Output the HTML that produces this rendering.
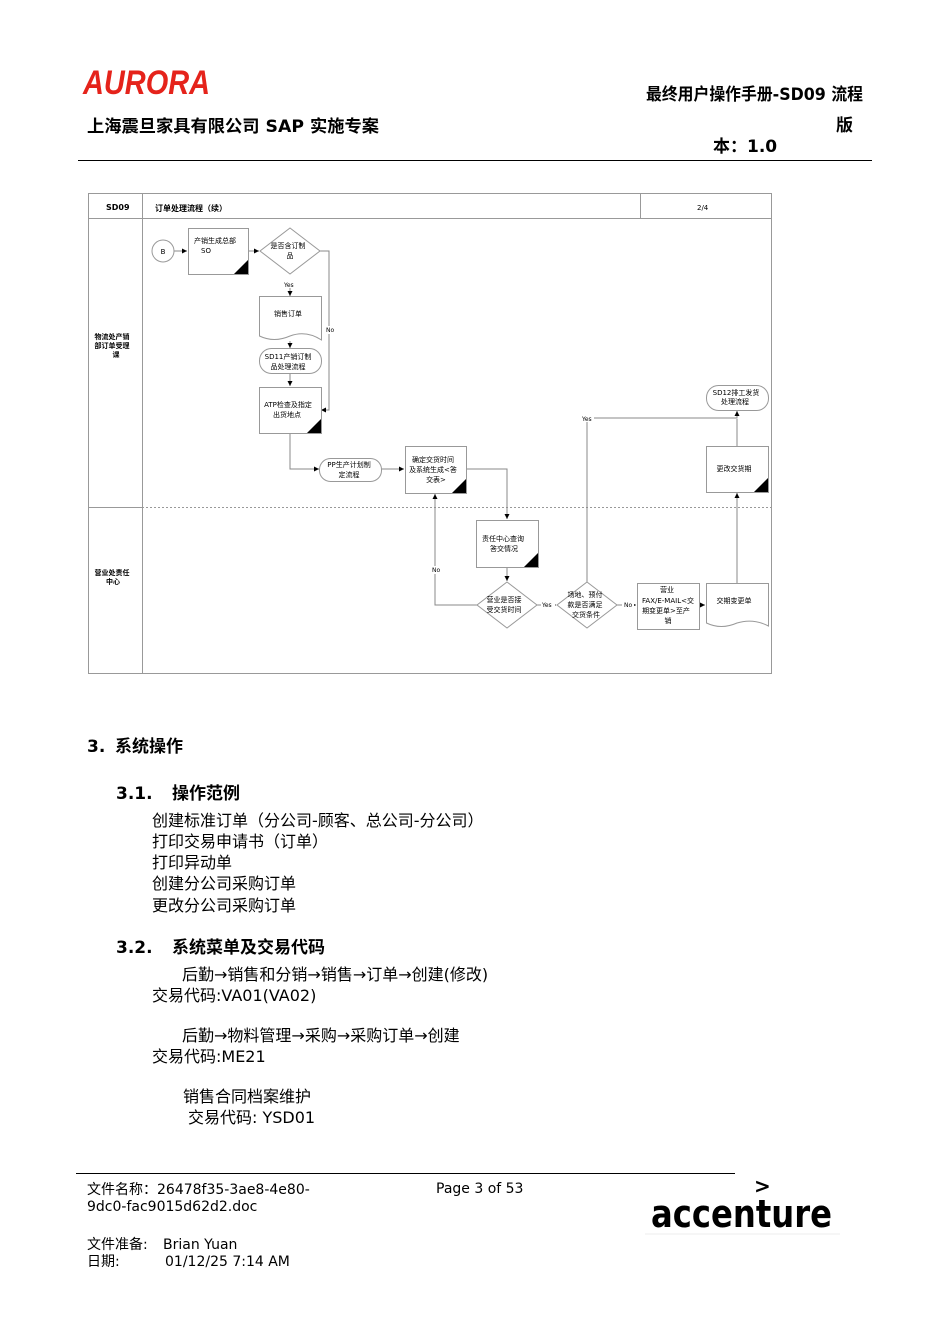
<!DOCTYPE html>
<html><head><meta charset="utf-8"><style>
html,body{margin:0;padding:0;background:#fff;}
svg{display:block;}
text{font-family:"DejaVu Sans","Noto Sans CJK SC",sans-serif;fill:#000;}
.d{font-size:7px;}
.b{font-size:16px;}
.h{font-size:17px;font-weight:bold;}
.f{font-size:14px;}
</style></head><body>
<svg width="950" height="1344" viewBox="0 0 950 1344" xmlns="http://www.w3.org/2000/svg">
<defs>
<marker id="a" markerWidth="6" markerHeight="6" refX="5" refY="3" orient="auto" markerUnits="userSpaceOnUse"><path d="M0,0.5 L5,3 L0,5.5 z" fill="#000"/></marker>
</defs>
<!-- header -->
<text x="83" y="94" textLength="127" lengthAdjust="spacingAndGlyphs" style="font-family:'Liberation Sans',sans-serif;font-size:34px;font-weight:bold;font-style:italic;fill:#e5231b;">AURORA</text>
<text x="87" y="132" class="h" textLength="292" lengthAdjust="spacingAndGlyphs">上海震旦家具有限公司 SAP 实施专案</text>
<text x="646" y="100" class="h" textLength="217" lengthAdjust="spacingAndGlyphs">最终用户操作手册-SD09 流程</text>
<text x="836" y="131" class="h">版</text>
<text x="713" y="152" class="h">本：1.0</text>
<line x1="78" y1="160.5" x2="872" y2="160.5" stroke="#000" stroke-width="1"/>

<!-- diagram frame -->
<g fill="none" stroke="#999" stroke-width="1">
<rect x="88.5" y="193.5" width="683" height="480"/>
<line x1="88" y1="218.5" x2="772" y2="218.5"/>
<line x1="142.5" y1="193" x2="142.5" y2="673"/>
<line x1="640.5" y1="193" x2="640.5" y2="218"/>
<line x1="88" y1="507.5" x2="142" y2="507.5"/>
<line x1="142" y1="507.5" x2="772" y2="507.5" stroke-dasharray="2,2"/>
</g>
<text x="106" y="210" class="d" style="font-weight:bold;font-size:8px">SD09</text>
<text x="155" y="211" class="d" style="font-weight:bold;font-size:8px">订单处理流程（续）</text>
<text x="697" y="210" class="d">2/4</text>
<text x="112" y="339" class="d" text-anchor="middle" style="font-weight:bold">物流处产销</text>
<text x="112" y="348" class="d" text-anchor="middle" style="font-weight:bold">部订单受理</text>
<text x="116" y="357" class="d" text-anchor="middle" style="font-weight:bold">课</text>
<text x="112" y="575" class="d" text-anchor="middle" style="font-weight:bold">营业处责任</text>
<text x="113" y="584" class="d" text-anchor="middle" style="font-weight:bold">中心</text>

<!-- connectors -->
<g fill="none" stroke="#888" stroke-width="1" marker-end="url(#a)">
<line x1="174" y1="251" x2="187" y2="251"/>
<line x1="248" y1="251" x2="259" y2="251"/>
<line x1="290" y1="288" x2="290" y2="296"/>
<polyline points="320,251 329,251 329,410 321,410"/>
<line x1="290" y1="341" x2="290" y2="348"/>
<line x1="290" y1="373" x2="290" y2="386"/>
<polyline points="290,433 290,469 319,469"/>
<line x1="381" y1="469" x2="404" y2="469"/>
<polyline points="466,469 507,469 507,519"/>
<line x1="507" y1="567" x2="507" y2="581"/>
<polyline points="477,605 435,605 435,494"/>
<line x1="537" y1="605" x2="556" y2="605"/>
<polyline points="587,582 587,418 737,418 737,411"/>
<line x1="617" y1="605" x2="636" y2="605"/>
<line x1="699" y1="605" x2="705" y2="605"/>
<line x1="737" y1="583" x2="737" y2="493"/>
<line x1="737" y1="446" x2="737" y2="419" marker-end="none"/>
</g>
<g fill="#fff">
<rect x="283" y="280" width="14" height="8"/>
<rect x="580" y="414" width="14" height="8"/>
<rect x="541" y="601" width="14" height="8"/>
<rect x="622" y="601" width="12" height="8"/>
<rect x="430" y="566" width="12" height="8"/>
<rect x="324" y="326" width="12" height="8"/>
</g>
<text x="284" y="287" class="d" style="font-size:6px">Yes</text>
<text x="582" y="421" class="d" style="font-size:6px">Yes</text>
<text x="542" y="607" class="d" style="font-size:6px">Yes</text>
<text x="624" y="607" class="d" style="font-size:6px">No</text>
<text x="432" y="572" class="d" style="font-size:6px">No</text>
<text x="326" y="332" class="d" style="font-size:6px">No</text>

<!-- nodes -->
<g fill="#fff" stroke="#999" stroke-width="1">
<circle cx="163" cy="251" r="11"/>
<rect x="188.5" y="228.5" width="60" height="46"/>
<polygon points="290,228 320,251 290,274 260,251"/>
<path d="M259.5,296.5 H321.5 V340 Q306,330 290,336 Q274,343 259.5,336 Z"/>
<rect x="259.5" y="348.5" width="62" height="25" rx="12"/>
<rect x="259.5" y="387.5" width="62" height="46"/>
<rect x="319.5" y="458.5" width="62" height="23" rx="11"/>
<rect x="405.5" y="446.5" width="61" height="47"/>
<rect x="476.5" y="520.5" width="62" height="47"/>
<polygon points="507,582 537,605 507,628 477,605"/>
<polygon points="587,582 617,605 587,628 557,605"/>
<rect x="637.5" y="583.5" width="62" height="46"/>
<path d="M706.5,583.5 H768.5 V626 Q753,618 737,623 Q721,630 706.5,623 Z"/>
<rect x="706.5" y="446.5" width="62" height="46"/>
<rect x="706.5" y="385.5" width="62" height="25" rx="12"/>
</g>
<g fill="#000">
<polygon points="248,260 248,274 234,274"/>
<polygon points="321,419 321,433 307,433"/>
<polygon points="466,479 466,493 452,493"/>
<polygon points="538,553 538,567 524,567"/>
<polygon points="768,478 768,492 754,492"/>
</g>
<g class="d" text-anchor="middle">
<text x="163" y="254" class="d">B</text>
<text x="215" y="243" class="d">产销生成总部</text>
<text x="206" y="253" class="d">SO</text>
<text x="288" y="248" class="d">是否含订制</text>
<text x="290" y="258" class="d">品</text>
<text x="288" y="316" class="d">销售订单</text>
<text x="288" y="359" class="d">SD11产销订制</text>
<text x="288" y="369" class="d">品处理流程</text>
<text x="288" y="407" class="d">ATP检查及指定</text>
<text x="287" y="417" class="d">出货地点</text>
<text x="349" y="467" class="d">PP生产计划制</text>
<text x="349" y="477" class="d">定流程</text>
<text x="433" y="462" class="d">确定交货时间</text>
<text x="433" y="472" class="d">及系统生成&lt;答</text>
<text x="436" y="482" class="d">交表&gt;</text>
<text x="503" y="541" class="d">责任中心查询</text>
<text x="504" y="551" class="d">答交情况</text>
<text x="504" y="602" class="d">营业是否接</text>
<text x="504" y="612" class="d">受交货时间</text>
<text x="585" y="597" class="d">场地、预付</text>
<text x="585" y="607" class="d">款是否满足</text>
<text x="586" y="617" class="d">交货条件</text>
<text x="667" y="592" class="d">营业</text>
<text x="668" y="603" class="d">FAX/E-MAIL&lt;交</text>
<text x="666" y="613" class="d">期变更单&gt;至产</text>
<text x="668" y="623" class="d">销</text>
<text x="734" y="603" class="d">交期变更单</text>
<text x="734" y="471" class="d">更改交货期</text>
<text x="736" y="395" class="d">SD12排工发货</text>
<text x="735" y="404" class="d">处理流程</text>
</g>

<!-- body text -->
<text x="87" y="752" class="h">3.</text>
<text x="115" y="752" class="h">系统操作</text>
<text x="116" y="799" class="h">3.1.</text>
<text x="172" y="799" class="h">操作范例</text>
<text x="152" y="826" class="b">创建标准订单（分公司-顾客、总公司-分公司）</text>
<text x="152" y="847" class="b">打印交易申请书（订单）</text>
<text x="152" y="868" class="b">打印异动单</text>
<text x="152" y="889" class="b">创建分公司采购订单</text>
<text x="152" y="911" class="b">更改分公司采购订单</text>
<text x="116" y="953" class="h">3.2.</text>
<text x="172" y="953" class="h">系统菜单及交易代码</text>
<text x="182" y="980" class="b">后勤→销售和分销→销售→订单→创建(修改)</text>
<text x="152" y="1001" class="b">交易代码:VA01(VA02)</text>
<text x="182" y="1041" class="b">后勤→物料管理→采购→采购订单→创建</text>
<text x="152" y="1062" class="b">交易代码:ME21</text>
<text x="183" y="1102" class="b">销售合同档案维护</text>
<text x="188" y="1123" class="b">交易代码: YSD01</text>

<!-- footer -->
<line x1="76" y1="1173.5" x2="735" y2="1173.5" stroke="#000" stroke-width="1"/>
<text x="87" y="1194" class="f">文件名称：26478f35-3ae8-4e80-</text>
<text x="87" y="1211" class="f">9dc0-fac9015d62d2.doc</text>
<text x="436" y="1193" class="f">Page 3 of 53</text>
<text x="87" y="1249" class="f">文件准备:</text>
<text x="163" y="1249" class="f">Brian Yuan</text>
<text x="87" y="1266" class="f">日期:</text>
<text x="165" y="1266" class="f">01/12/25 7:14 AM</text>
<text x="651" y="1227" textLength="181" lengthAdjust="spacingAndGlyphs" style="font-family:'DejaVu Sans',sans-serif;font-size:38px;font-weight:bold;">accenture</text>
<text x="754" y="1193" style="font-family:'DejaVu Sans',sans-serif;font-size:20px;font-weight:bold">&gt;</text>
<line x1="645" y1="1234" x2="840" y2="1234" stroke="#eee" stroke-width="1"/>
</svg>
</body></html>
